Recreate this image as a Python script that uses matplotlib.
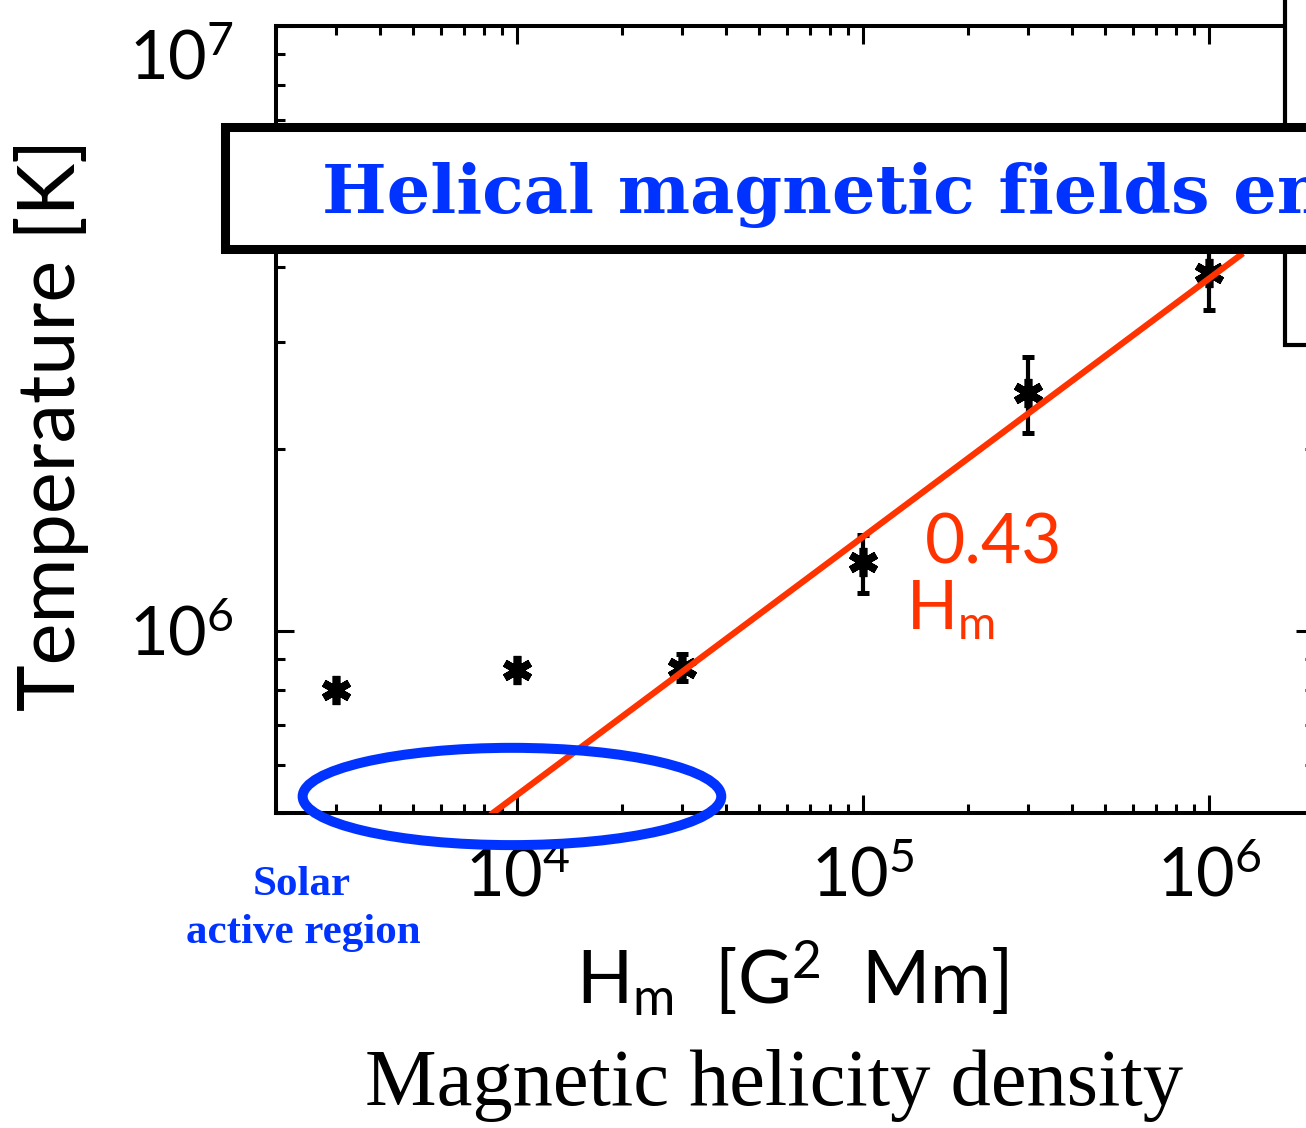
import matplotlib
matplotlib.use('Agg')
import matplotlib.pyplot as plt
from matplotlib.patches import Ellipse, Rectangle
from matplotlib.transforms import ScaledTranslation

# magnetic helicity density H_m [G^2 Mm] and coronal temperature [K]
helicity = [3e3, 1e4, 3e4, 1e5, 3e5, 1e6]
temperature = [8.0e5, 8.62e5, 8.69e5, 1.30e6, 2.47e6, 3.91e6]
temp_low = [8.0e5, 8.62e5, 8.25e5, 1.155e6, 2.125e6, 3.39e6]
temp_high = [8.0e5, 8.62e5, 9.15e5, 1.44e6, 2.84e6, 4.5e6]

# power-law fit T ~ H_m^0.43, end points
fit_h = [8.5e3, 1.23e6]
fit_t = [5.0e5, 4.18e6]
fit_index = '0.43'

title = 'Helical magnetic fields energize stellar coronae'

red = '#ff3300'
blue = '#0033ff'

plt.rcParams['font.family'] = ['Lato', 'DejaVu Sans']
plt.rcParams['mathtext.fontset'] = 'custom'
plt.rcParams['mathtext.rm'] = 'Lato'
plt.rcParams['mathtext.it'] = 'Lato'
plt.rcParams['mathtext.default'] = 'rm'

fig = plt.figure(figsize=(13.06, 11.28), dpi=100)
ax = fig.add_axes([275.5 / 1306, 1 - 813 / 1128, 1038 / 1306, 787 / 1128])

yerr = [[t - lo for t, lo in zip(temperature, temp_low)],
        [hi - t for t, hi in zip(temperature, temp_high)]]
ax.errorbar(helicity, temperature, yerr=yerr, fmt='none', ecolor='black',
            elinewidth=3, capsize=4.3, capthick=3.6, zorder=2)
ax.plot(helicity, temperature, ls='none', marker=(6, 2, 0), ms=21, mew=5.5,
        color='black', zorder=2)
ax.plot(fit_h, fit_t, color=red, lw=4.5, zorder=3)

ax.set_xscale('log')
ax.set_yscale('log')
ax.set_xlim(2e3, 2e6)
ax.set_ylim(5e5, 1e7)

for s in ax.spines.values():
    s.set_linewidth(2.9)
ax.tick_params(which='both', direction='in', top=True, right=True, width=2.2,
               labelsize=48)
ax.tick_params(which='major', length=13)
ax.tick_params(which='minor', length=6.5)
ax.tick_params(axis='x', pad=24)
ax.tick_params(axis='y', pad=30)

fig.canvas.draw()
for lab in ax.get_yticklabels():
    if lab.get_position()[1] > 5e6:
        lab.set_transform(lab.get_transform() +
                          ScaledTranslation(0, -0.28, fig.dpi_scale_trans))

fig.text(52 / 1306, 1 - 425 / 1128, 'Temperature [K]', rotation=90,
         ha='center', va='center', fontsize=57)
fig.text(792 / 1306, 1 - 1005 / 1128, r'H$_{\mathrm{m}}$  [G$^{2}$  Mm]',
         ha='center', va='baseline', fontsize=53)
fig.text(774 / 1306, 1 - 1105 / 1128, 'Magnetic helicity density',
         ha='center', va='baseline', fontsize=58, family='Liberation Serif')

# fit label
fig.text(925 / 1306, 1 - 563 / 1128, fit_index, color=red, fontsize=50,
         va='baseline')
fig.text(906 / 1306, 1 - 630 / 1128, r'H$_{\mathrm{m}}$', color=red,
         fontsize=48, va='baseline')

# solar active region marker
ax.add_patch(Ellipse((0.2278, 0.021), 0.4033, 0.1236, transform=ax.transAxes,
                     fill=False, ec=blue, lw=7.2, clip_on=False, zorder=5))
fig.text(302 / 1306, 1 - 895 / 1128, 'Solar', ha='center', va='baseline',
         color=blue, fontsize=31, family='Liberation Serif', weight='bold')
fig.text(303 / 1306, 1 - 943 / 1128, 'active region', ha='center',
         va='baseline', color=blue, fontsize=31, family='Liberation Serif',
         weight='bold')

# legend box (cut at the right edge) and title banner
fig.add_artist(Rectangle((1285 / 1306, 1 - 345 / 1128), 0.2, 0.4,
                         transform=fig.transFigure, fc='white', ec='black',
                         lw=3, zorder=4))
fig.add_artist(Rectangle((224.5 / 1306, 1 - 248.5 / 1128), 1.0, 121 / 1128,
                         transform=fig.transFigure, fc='white', ec='black',
                         lw=6.5, zorder=5))

# size the banner text so that "fields" ends where it does in the original
banner_font = dict(family='DejaVu Serif', weight='bold')
probe = fig.text(0, 0, 'Helical magnetic fields', fontsize=50, **banner_font)
w = probe.get_window_extent(fig.canvas.get_renderer()).width
probe.remove()
fig.text(322 / 1306, 1 - 213 / 1128, title, color=blue,
         fontsize=50 * 888 / w, va='baseline', zorder=6, **banner_font)

fig.savefig('out.png', dpi=100)
